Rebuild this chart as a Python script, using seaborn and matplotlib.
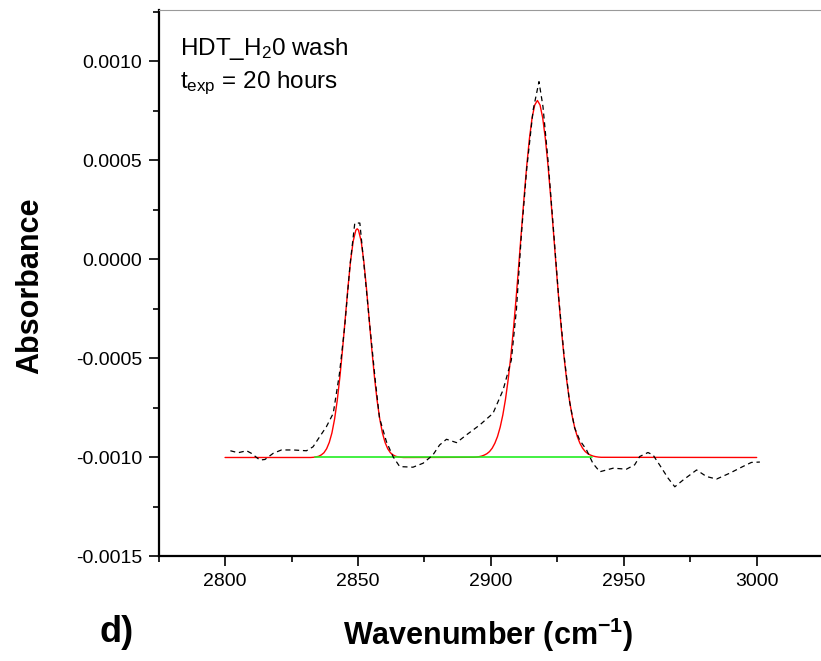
import matplotlib
matplotlib.use("Agg")
import matplotlib.pyplot as plt
import seaborn as sns
from matplotlib.ticker import MultipleLocator, FormatStrFormatter

# measured spectrum (dashed black)
exp_wn = [2802.0, 2804.9, 2808.1, 2809.9, 2813.1, 2815.0, 2818.1, 2821.2, 2825.6, 2830.6,
          2833.1, 2835.6, 2838.1, 2840.7, 2843.0, 2845.0, 2847.0, 2848.8, 2850.7, 2852.5,
          2854.5, 2856.5, 2858.1, 2860.7, 2863.2, 2865.7, 2870.7, 2874.5, 2878.2, 2880.7,
          2883.3, 2887.1, 2890.8, 2895.8, 2900.8, 2904.6, 2907.7, 2909.6, 2911.5, 2913.5,
          2915.9, 2918.1, 2919.6, 2921.5, 2923.5, 2925.5, 2927.5, 2929.5, 2931.5, 2933.4,
          2936.0, 2938.4, 2941.0, 2946.0, 2951.0, 2954.1, 2956.0, 2959.1, 2961.0, 2963.5,
          2966.7, 2969.2, 2972.3, 2977.4, 2981.1, 2984.9, 2989.9, 2994.9, 2998.0, 3001.2]
exp_abs = [-0.000966, -0.000976, -0.000966, -0.000979, -0.001013, -0.001010, -0.000979, -0.000962, -0.000962, -0.000966,
           -0.000946, -0.000895, -0.000845, -0.000777, -0.000580, -0.000340, -0.000030, 0.000184, 0.000184, -0.000060,
           -0.000340, -0.000610, -0.000800, -0.000920, -0.000996, -0.001046, -0.001049, -0.001029, -0.000987, -0.000937,
           -0.000908, -0.000925, -0.000886, -0.000836, -0.000777, -0.000659, -0.000508, -0.000255, 0.000130, 0.000460,
           0.000755, 0.000898, 0.000772, 0.000500, 0.000160, -0.000190, -0.000480, -0.000710, -0.000850, -0.000912,
           -0.000962, -0.001030, -0.001072, -0.001054, -0.001059, -0.001037, -0.000995, -0.000975, -0.000987, -0.001038,
           -0.001105, -0.001148, -0.001114, -0.001063, -0.001096, -0.001109, -0.001079, -0.001045, -0.001025, -0.001023]

# fitted curve (red)
fit_wn = [2800.0,
          2832.2, 2833.2, 2834.2, 2835.2, 2836.2, 2837.2, 2838.2, 2839.2, 2840.2, 2841.2,
          2842.2, 2843.2, 2844.2, 2845.2, 2846.2, 2847.2, 2848.2, 2849.2, 2849.7, 2850.2,
          2851.2, 2852.2, 2853.2, 2854.2, 2855.2, 2856.2, 2857.2, 2858.2, 2859.2, 2860.2,
          2861.2, 2862.2, 2863.2, 2864.2, 2865.2, 2866.2, 2867.2,
          2893.5, 2894.5, 2895.5, 2896.5, 2897.5, 2898.5, 2899.5, 2900.5, 2901.5, 2902.5,
          2903.5, 2904.5, 2905.5, 2906.5, 2907.5, 2908.5, 2909.5, 2910.5, 2911.5, 2912.5,
          2913.5, 2914.5, 2915.5, 2916.5, 2917.5, 2918.5, 2919.5, 2920.5, 2921.5, 2922.5,
          2923.5, 2924.5, 2925.5, 2926.5, 2927.5, 2928.5, 2929.5, 2930.5, 2931.5, 2932.5,
          2933.5, 2934.5, 2935.5, 2936.5, 2937.5, 2938.5, 2939.5, 2940.5, 2941.5,
          3000.0]
fit_abs = [-0.001000,
           -0.001000, -0.000999, -0.000997, -0.000994, -0.000987, -0.000976, -0.000956, -0.000924, -0.000876, -0.000806,
           -0.000712, -0.000593, -0.000453, -0.000300, -0.000146, -0.000010, 0.0000925, 0.000148, 0.000155, 0.000148,
           0.0000925, -0.000010, -0.000146, -0.000300, -0.000453, -0.000593, -0.000712, -0.000806, -0.000876, -0.000924,
           -0.000956, -0.000976, -0.000987, -0.000994, -0.000997, -0.000999, -0.001000,
           -0.000999, -0.000998, -0.000996, -0.000993, -0.000988, -0.000981, -0.000970, -0.000953, -0.000928, -0.000894,
           -0.000847, -0.000785, -0.000706, -0.000607, -0.000489, -0.000350, -0.000195, -0.000027, 0.000146, 0.000316,
           0.000474, 0.000610, 0.000715, 0.000780, 0.000803, 0.000780, 0.000715, 0.000610, 0.000474, 0.000316,
           0.000146, -0.000027, -0.000195, -0.000350, -0.000489, -0.000607, -0.000706, -0.000785, -0.000847, -0.000894,
           -0.000928, -0.000953, -0.000970, -0.000981, -0.000988, -0.000993, -0.000996, -0.000998, -0.000999,
           -0.001000]

# baseline (green)
base_wn = [2834.0, 2938.0]
base_abs = [-0.0010, -0.0010]

sns.set_theme(style="ticks")
plt.rcParams["font.family"] = ["Liberation Sans", "DejaVu Sans"]
plt.rcParams["axes.unicode_minus"] = False
plt.rcParams["mathtext.default"] = "regular"
plt.rcParams["text.color"] = "black"

fig = plt.figure(figsize=(8.21, 6.61), dpi=100)
ax = fig.add_axes([0.1932, 0.1581, 0.8068, 0.8268])

sns.lineplot(x=fit_wn, y=fit_abs, ax=ax, color="#ff0000", lw=1.0, sort=False)
sns.lineplot(x=base_wn, y=base_abs, ax=ax, color="#22ee22", lw=1.2, sort=False)
sns.lineplot(x=exp_wn, y=exp_abs, ax=ax, color="black", lw=0.9, sort=False,
             linestyle=(0, (4, 3)))

ax.set_xlim(2775, 3024.2)
ax.set_ylim(-0.0015, 0.00126)
ax.xaxis.set_major_locator(MultipleLocator(50))
ax.xaxis.set_minor_locator(MultipleLocator(25))
ax.yaxis.set_major_locator(MultipleLocator(0.0005))
ax.yaxis.set_minor_locator(MultipleLocator(0.00025))
ax.yaxis.set_major_formatter(FormatStrFormatter("%.4f"))

ax.tick_params(axis="both", which="major", direction="out", length=7, width=1.2,
               labelsize=14, color="black", labelcolor="black", pad=5)
ax.tick_params(axis="both", which="minor", direction="out", length=4, width=1.2, color="black")
ax.tick_params(top=False, right=False)

for side in ["left", "bottom"]:
    ax.spines[side].set_color("black")
    ax.spines[side].set_linewidth(1.6)
ax.spines["top"].set_color("#9a9a9a")
ax.spines["top"].set_linewidth(0.8)
ax.spines["right"].set_visible(False)

ax.set_xlabel("")
ax.set_ylabel("")

ax.text(2783, 0.001033, r"HDT_H$_2$0 wash", fontsize=17.5, color="black", va="baseline")
ax.text(2783, 0.000866, r"t$_{exp}$ = 20 hours", fontsize=17.5, color="black", va="baseline")

label_font = ["Liberation Sans Narrow", "Liberation Sans", "DejaVu Sans"]
fig.text(30 / 821, 1 - 286 / 661, "Absorbance", rotation=90, fontsize=22, fontweight="bold",
         family=label_font, color="black", ha="center", va="center")
fig.text(488 / 821, 1 - 635 / 661, r"Wavenumber (cm$^{-1}$)", fontsize=22, fontweight="bold",
         family=label_font, color="black", ha="center", va="center")
fig.text(117 / 821, 1 - 632 / 661, "d)", fontsize=26, fontweight="bold",
         family=label_font, color="black", ha="center", va="center")

fig.savefig("out.png", dpi=100)
